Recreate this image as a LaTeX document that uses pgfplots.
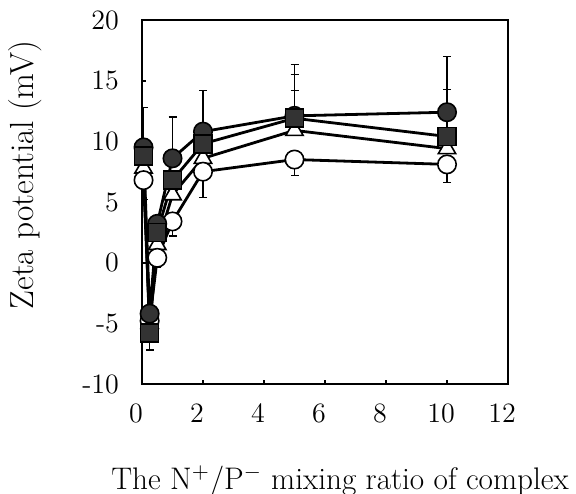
\documentclass[border=0pt]{standalone}
\usepackage{pgfplots}
\pgfplotsset{compat=1.18}
\begin{document}
\begin{tikzpicture}[x=1pt,y=1pt]
\useasboundingbox (0,0) rectangle (288,246.5);
\begin{axis}[
  at={(71pt,54.5pt)}, anchor=south west,
  scale only axis, width=183pt, height=182pt,
  xmin=0, xmax=12, ymin=-10, ymax=20,
  xtick={0,2,...,12}, ytick={-10,-5,...,20},
  xtick pos=bottom, ytick pos=left,
  tick align=inside, major tick length=2pt,
  axis line style={line width=1.3pt},
  tick style={line width=0.9pt, black},
  ticklabel style={font=\fontsize{14}{16}\selectfont},
  /pgf/number format/assume math mode=true,
  xticklabel style={yshift=-6.5pt, xshift=-3pt},
  yticklabel style={xshift=-8pt},
  xlabel={The N$^{+}$/P$^{-}$ mixing ratio of complex},
  xlabel style={font=\fontsize{15.6}{18}\selectfont, at={(axis description cs:0.541,0)}, anchor=base, yshift=-52.5pt},
  ylabel={Zeta potential (mV)},
  ylabel style={font=\fontsize{16.7}{19}\selectfont, at={(axis description cs:0,0.574)}, anchor=base, yshift=54pt},
  every axis plot/.append style={black, line width=1.4pt},
  error bars/error bar style={line width=0.6pt, black},
  error bars/error mark options={rotate=90, mark size=2pt, line width=0.6pt, black},
]
% open triangle
\addplot[mark=triangle*, mark size=5pt, mark options={fill=white, draw=black, line width=0.8pt, solid},
  error bars/.cd, y dir=both, y explicit]
coordinates {
(0.05,7.8) += (0,0) -= (0,0)
(0.25,-5.0) += (0,0) -= (0,0)
(0.5,1.5) += (0,0) -= (0,0)
(1,5.6) += (0,0) -= (0,0)
(2,8.6) += (0,0) -= (0,0)
(5,10.9) += (0,3.3) -= (0,0)
(10,9.4) += (0,0) -= (0,0)
};
% open circle
\addplot[mark=*, mark size=4.6pt, mark options={fill=white, draw=black, line width=0.8pt, solid},
  error bars/.cd, y dir=both, y explicit]
coordinates {
(0.05,6.8) += (0,0) -= (0,1.6)
(0.25,-4.8) += (0,0) -= (0,0)
(0.5,0.4) += (0,0) -= (0,0.8)
(1,3.4) += (0,0) -= (0,1.2)
(2,7.5) += (0,0) -= (0,2.1)
(5,8.5) += (0,0) -= (0,1.3)
(10,8.1) += (0,0) -= (0,1.5)
};
% filled circle
\addplot[mark=*, mark size=4.6pt, mark options={fill=black!80, draw=black, line width=0.8pt, solid},
  error bars/.cd, y dir=both, y explicit]
coordinates {
(0.05,9.5) += (0,3.3) -= (0,0)
(0.25,-4.2) += (0,0) -= (0,0)
(0.5,3.2) += (0,0) -= (0,0)
(1,8.6) += (0,3.4) -= (0,0)
(2,10.8) += (0,3.4) -= (0,0)
(5,12.1) += (0,4.2) -= (0,0)
(10,12.4) += (0,4.6) -= (0,0)
};
% filled square
\addplot[mark=square*, mark size=4.5pt, mark options={fill=black!80, draw=black, line width=0.8pt, solid},
  error bars/.cd, y dir=both, y explicit]
coordinates {
(0.05,8.8) += (0,0) -= (0,0)
(0.25,-5.8) += (0,0) -= (0,1.4)
(0.5,2.5) += (0,0) -= (0,0)
(1,6.8) += (0,0) -= (0,0)
(2,9.8) += (0,0) -= (0,0)
(5,11.9) += (0,3.6) -= (0,0)
(10,10.4) += (0,3.9) -= (0,0)
};
\end{axis}
\end{tikzpicture}
\end{document}
